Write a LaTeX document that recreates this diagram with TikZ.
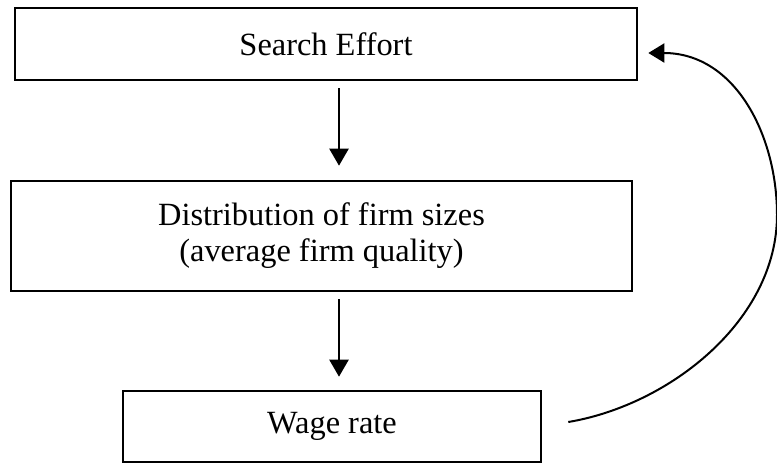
\documentclass[tikz,border=0pt]{standalone}
\usepackage{fontspec}
\setmainfont{Liberation Serif}
\usetikzlibrary{arrows.meta}
\begin{document}
\begin{tikzpicture}[x=1pt,y=-1pt,
  box/.style={draw=black,line width=2.6pt,inner sep=0pt,align=center,
    font=\fontsize{32.4}{36}\selectfont},
  arr/.style={line width=2.4pt,-{Triangle[length=17pt,width=19pt]}},
  back/.style={line width=2pt,-{Triangle[length=16pt,width=19pt]}}]
\useasboundingbox (0,0) rectangle (777,463);
\node[box,minimum width=622pt,minimum height=72pt] (search) at (326,44) {Search Effort};
\node[box,minimum width=621pt,minimum height=110pt] (dist) at (321.5,236)
  {Distribution of firm sizes\\(average firm quality)};
\node[box,minimum width=418pt,minimum height=71pt] (wage) at (332,426.5) {Wage rate};
\draw[arr] ([xshift=13pt,yshift=-7pt]search.south) -- ([xshift=17.5pt,yshift=14pt]dist.north);
\draw[arr] ([xshift=17.5pt,yshift=-7pt]dist.south) -- ([xshift=7pt,yshift=13pt]wage.north);
\coordinate (bend) at (777,215);
\draw[back] ([xshift=26pt,yshift=4.5pt]wage.east)
  .. controls (670,405) and (777,320) .. (bend)
  .. controls (777,135) and (735,53) .. ([xshift=10pt,yshift=-9pt]search.east);
\end{tikzpicture}
\end{document}
